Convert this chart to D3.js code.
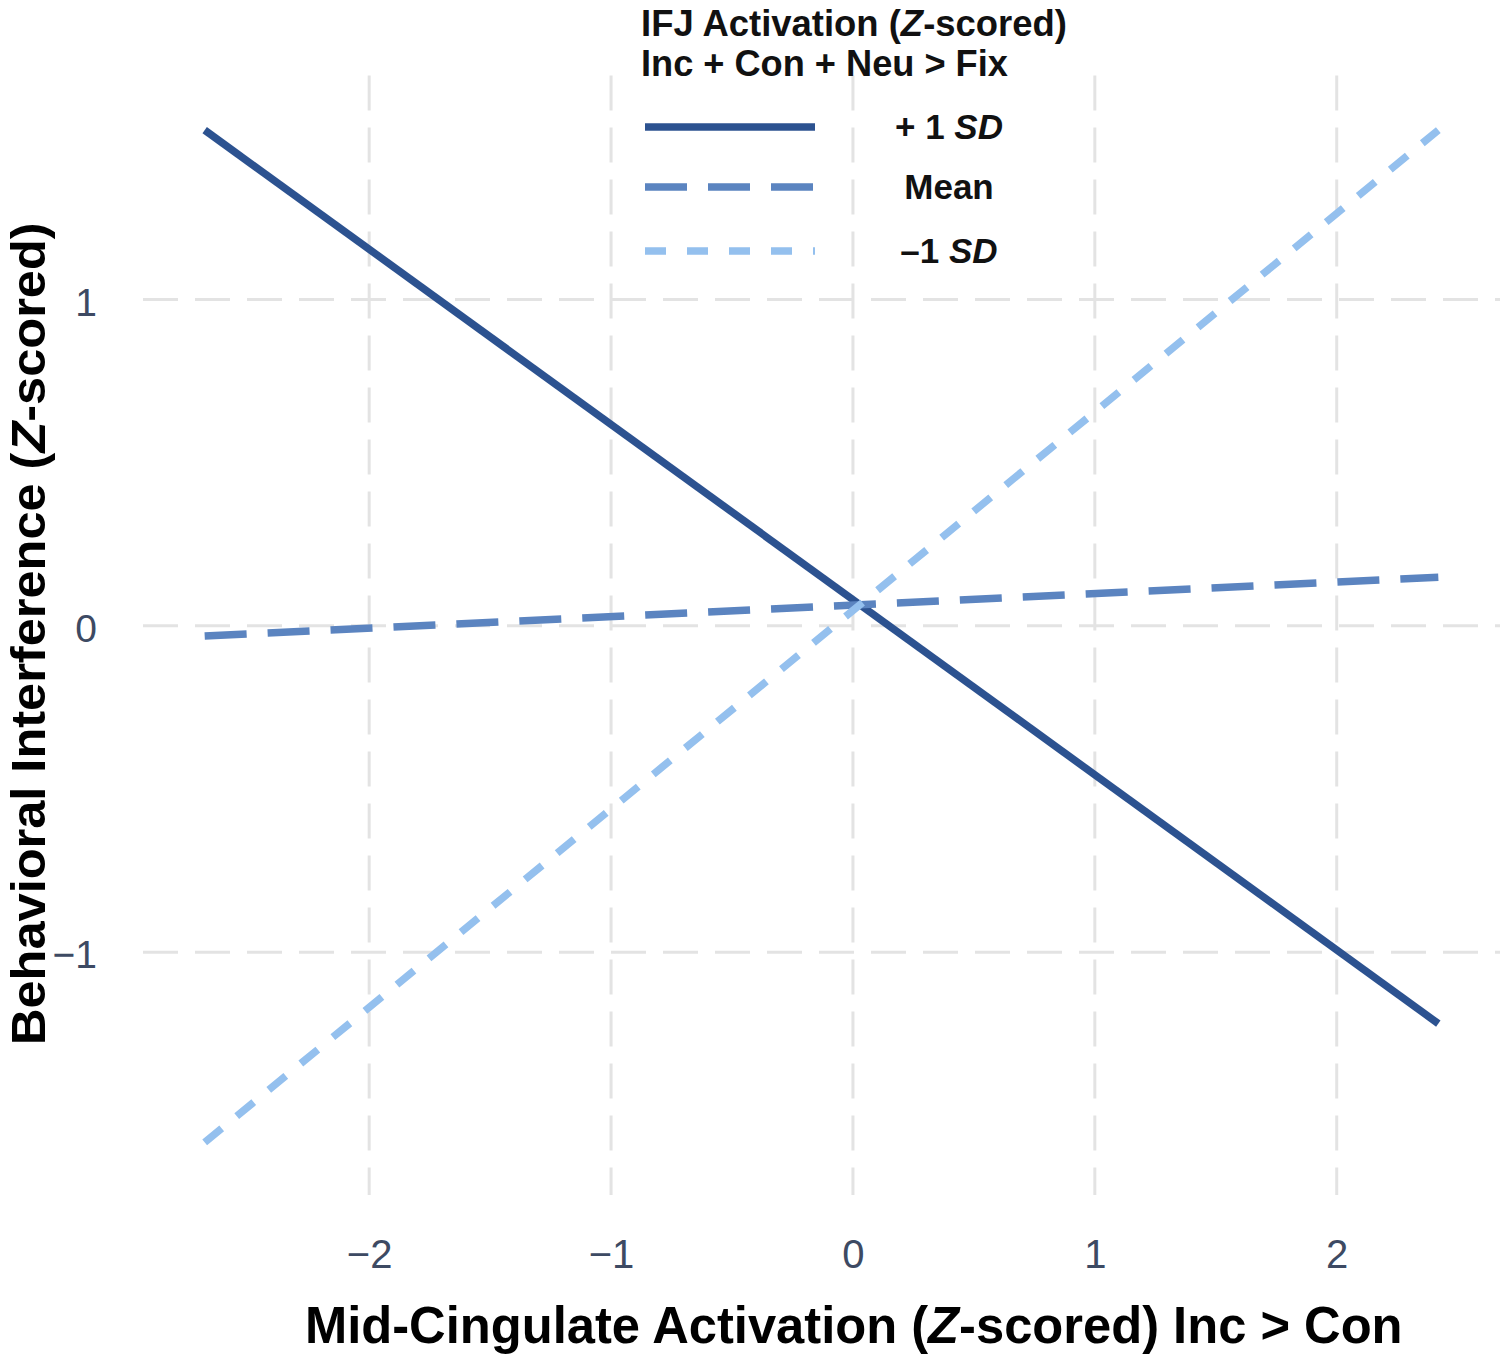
<!DOCTYPE html>
<html>
<head>
<meta charset="utf-8">
<script src="https://cdn.jsdelivr.net/npm/d3@7"></script>
<style>
  html, body { margin: 0; padding: 0; background: #ffffff; }
  svg { display: block; }
  text { font-family: "Liberation Sans", Arial, sans-serif; }
</style>
</head>
<body>
<svg id="chart" width="1503" height="1359"></svg>
<script>
// ---- data ----
const xEnds = [-2.68, 2.42];
const seriesNames = ["+1 SD", "Mean", "-1 SD"];
const plusOneSD = [1.519, -1.219];
const meanSeries = [-0.031, 0.149];
const minusOneSD = [-1.583, 1.519];
const xTicks = [-2, -1, 0, 1, 2];
const yTicks = [-1, 0, 1];

const svg = d3.select("#chart");
const panel = { left: 143, right: 1500, top: 79.5, bottom: 1193 };

function expand(ext, f) {
  const r = ext[1] - ext[0];
  return [ext[0] - r * f, ext[1] + r * f];
}
const allY = plusOneSD.concat(meanSeries, minusOneSD);
const x = d3.scaleLinear().domain(expand(d3.extent(xEnds), 0.05)).range([panel.left, panel.right]);
const y = d3.scaleLinear().domain(expand(d3.extent(allY), 0.05)).range([panel.bottom, panel.top]);

const fmt = d => (d < 0 ? "\u2212" + Math.abs(d) : String(d));

// fit a text horizontally to a target width using a scale transform
function fitText(t, targetW, prefix) {
  const w = t.node().getComputedTextLength();
  t.attr("transform", `${prefix} scale(${targetW / w},1)`);
}

// grid
const gridColor = "#e3e3e3";
svg.append("g").selectAll("line").data(xTicks).join("line")
  .attr("x1", d => x(d)).attr("x2", d => x(d))
  .attr("y1", panel.top - 4).attr("y2", panel.bottom + 2)
  .attr("stroke", gridColor).attr("stroke-width", 3)
  .attr("stroke-dasharray", "35,17");
svg.append("g").selectAll("line").data(yTicks).join("line")
  .attr("x1", panel.left).attr("x2", panel.right)
  .attr("y1", d => y(d)).attr("y2", d => y(d))
  .attr("stroke", gridColor).attr("stroke-width", 3)
  .attr("stroke-dasharray", "35,17");

// axes (labels only, ggplot minimal style)
const xAxis = svg.append("g").attr("transform", `translate(0,${panel.bottom})`)
  .call(d3.axisBottom(x).tickValues(xTicks).tickFormat(fmt).tickSize(0).tickPadding(0));
xAxis.select(".domain").remove();
xAxis.selectAll("text").attr("dy", null).attr("y", 75)
  .attr("font-size", 40).attr("fill", "#3d4a63").attr("font-family", "Liberation Sans, Arial, sans-serif");

const yAxis = svg.append("g").attr("transform", `translate(97,0)`)
  .call(d3.axisLeft(y).tickValues(yTicks).tickFormat(fmt).tickSize(0).tickPadding(0));
yAxis.select(".domain").remove();
yAxis.selectAll("text").attr("x", 0).attr("dy", "0.4em")
  .attr("font-size", 39).attr("fill", "#3d4a63").attr("font-family", "Liberation Sans, Arial, sans-serif");

// lines
const colors = ["#2c5290", "#5b84c0", "#94c0ee"];
const dashes = [null, "42,21", "22,19.45"];
const allSeries = [plusOneSD, meanSeries, minusOneSD];
const line = d3.line().x(d => x(d[0])).y(d => y(d[1]));
svg.append("g").selectAll("path").data(allSeries).join("path")
  .attr("d", s => line(xEnds.map((xv, i) => [xv, s[i]])))
  .attr("fill", "none")
  .attr("stroke", (s, i) => colors[i])
  .attr("stroke-width", 7.5)
  .attr("stroke-dasharray", (s, i) => dashes[i]);

// legend
const lg = svg.append("g");
const t1 = lg.append("text").attr("x", 0).attr("y", 0)
  .attr("font-size", 37).attr("font-weight", "bold").attr("fill", "#111")
  .call(t => {
    t.append("tspan").text("IFJ Activation (");
    t.append("tspan").attr("font-style", "italic").text("Z");
    t.append("tspan").text("-scored)");
  });
fitText(t1, 426, "translate(641,36)");
const t2 = lg.append("text").attr("x", 0).attr("y", 0)
  .attr("font-size", 37).attr("font-weight", "bold").attr("fill", "#111")
  .text("Inc + Con + Neu > Fix");
fitText(t2, 367, "translate(641,76)");

const legendY = [127, 187, 251];
const legendLabels = [["+ 1 ", "SD"], ["Mean", ""], ["\u20131 ", "SD"]];
allSeries.forEach((s, i) => {
  lg.append("line").attr("x1", 645).attr("x2", 815)
    .attr("y1", legendY[i]).attr("y2", legendY[i])
    .attr("stroke", colors[i]).attr("stroke-width", 7.5)
    .attr("stroke-dasharray", i === 2 ? "21,21" : dashes[i]);
  const t = lg.append("text").attr("x", 949).attr("y", legendY[i] + 12)
    .attr("text-anchor", "middle")
    .attr("font-size", 35).attr("font-weight", "bold").attr("fill", "#111");
  t.append("tspan").text(legendLabels[i][0]);
  if (legendLabels[i][1]) t.append("tspan").attr("font-style", "italic").text(legendLabels[i][1]);
});

// axis titles
const xt = svg.append("text").attr("x", 0).attr("y", 0)
  .attr("font-size", 51).attr("font-weight", "bold").attr("fill", "#000")
  .call(t => {
    t.append("tspan").text("Mid-Cingulate Activation (");
    t.append("tspan").attr("font-style", "italic").text("Z");
    t.append("tspan").text("-scored) Inc > Con");
  });
fitText(xt, 1098, "translate(305,1343)");

const yt = svg.append("text").attr("x", 0).attr("y", 0)
  .attr("font-size", 48).attr("font-weight", "bold").attr("fill", "#000")
  .call(t => {
    t.append("tspan").text("Behavioral Interference (");
    t.append("tspan").attr("font-style", "italic").text("Z");
    t.append("tspan").text("-scored)");
  });
fitText(yt, 823, "translate(45,1045) rotate(-90)");
</script>
</body>
</html>
